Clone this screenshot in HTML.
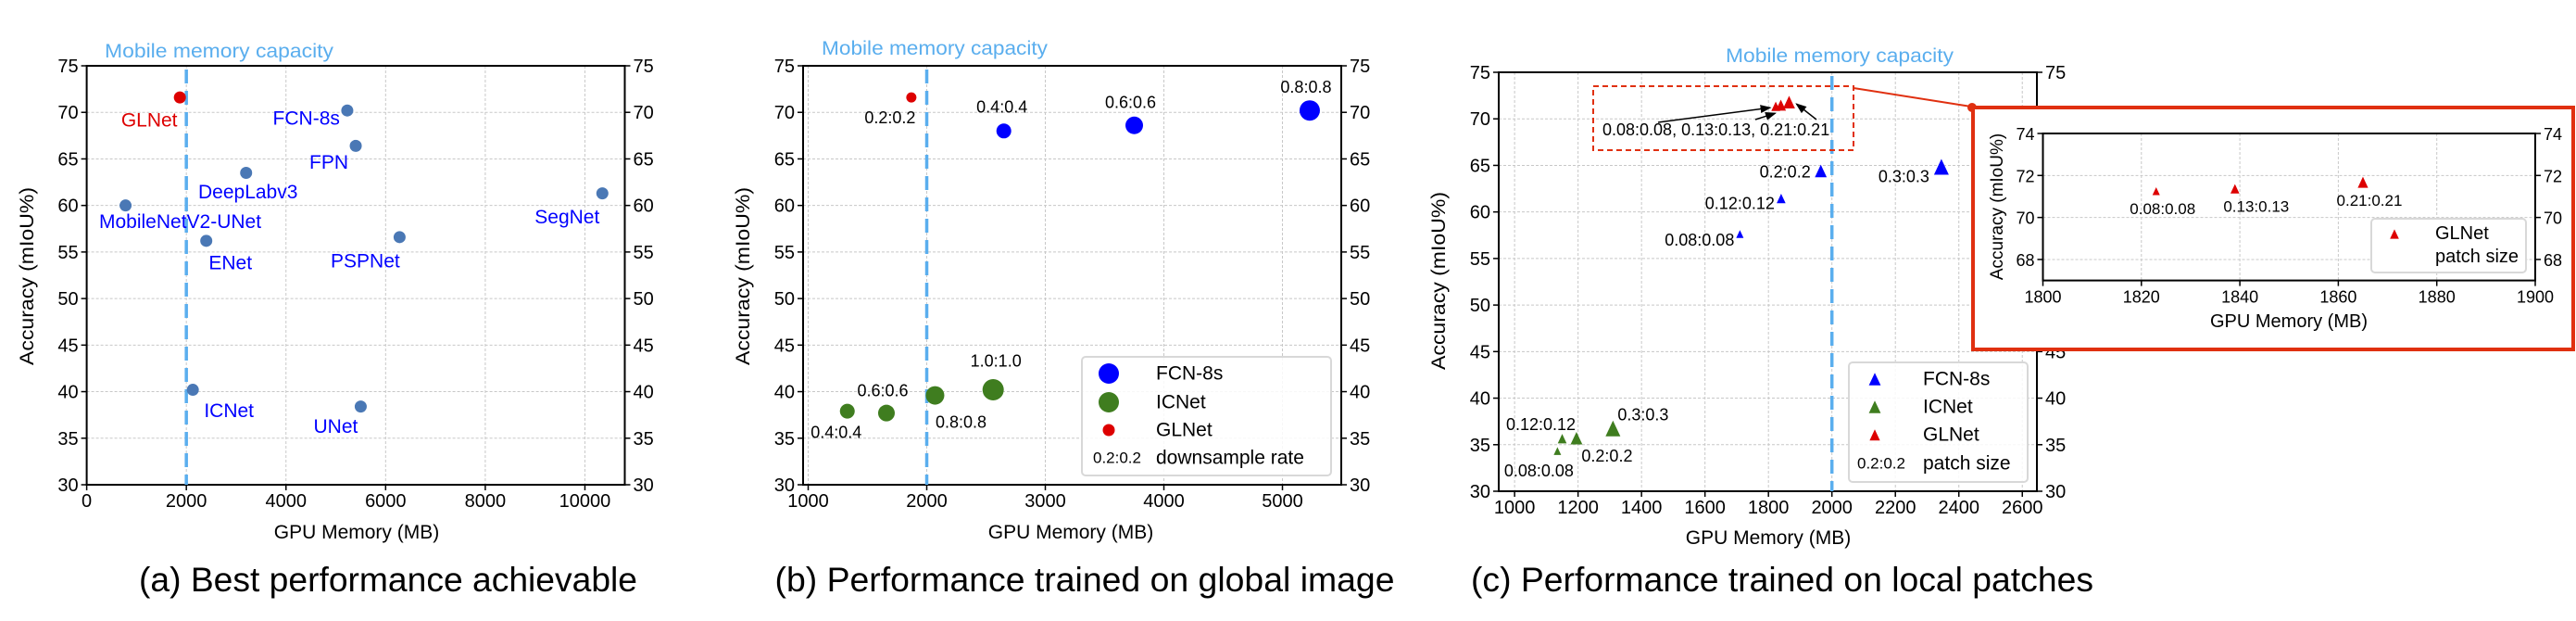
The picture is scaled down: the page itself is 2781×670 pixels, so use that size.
<!DOCTYPE html>
<html><head><meta charset="utf-8"><style>
html,body{margin:0;padding:0;background:#fff}
svg{display:block}
text{font-family:"Liberation Sans",sans-serif}
</style></head><body>
<svg id="fig" xmlns="http://www.w3.org/2000/svg" width="2781" height="670" viewBox="0 0 2781 670"></svg>
<script>
// ---------- data ----------
const yTicks = [30,35,40,45,50,55,60,65,70,75];
const aXTicks = [0,2000,4000,6000,8000,10000];
const aNames = ["GLNet","FCN-8s","FPN","DeepLabv3","MobileNetV2-UNet","SegNet","ENet","PSPNet","ICNet","UNet"];
const aMem = [1870,5230,5400,3200,780,10350,2400,6280,2130,5500];
const aAcc = [71.6,70.2,66.4,63.5,60.0,61.3,56.2,56.6,40.2,38.4];
const aLabDx=[-33,-8,-29,2,59,-38,26,-37,39,-27];
const aLabDy=[25,9,18,21,18,26,24,26,23,22];
const aAnchor=["middle","end","middle","middle","middle","middle","middle","middle","middle","middle"];

const bXTicks = [1000,2000,3000,4000,5000];
const bFcnRate = ["0.4:0.4","0.6:0.6","0.8:0.8"];
const bFcnMem = [2650,3750,5230];
const bFcnAcc = [68.0,68.6,70.2];
const bFcnR = [8,9.5,11];
const bFcnDx=[-2,-4,-4], bFcnDy=[-26,-25,-25];
const bIcRate = ["0.4:0.4","0.6:0.6","0.8:0.8","1.0:1.0"];
const bIcMem = [1330,1660,2070,2560];
const bIcAcc = [37.9,37.7,39.6,40.2];
const bIcR = [8,9,10,11.5];
const bIcDx=[-12,-4,28,3], bIcDy=[23,-24,29,-31];
const bGlRate=["0.2:0.2"], bGlMem=[1870], bGlAcc=[71.6];

const cXTicks = [1000,1200,1400,1600,1800,2000,2200,2400,2600];
const cFcnPatch=["0.08:0.08","0.12:0.12","0.2:0.2","0.3:0.3"];
const cFcnMem=[1710,1840,1965,2345];
const cFcnAcc=[57.5,61.3,64.2,64.6];
const cFcnS=[5,6,8,10];
const cFcnDx=[-6,-7,-11,-13], cFcnDy=[5,4,-1,8];
const cIcPatch=["0.08:0.08","0.12:0.12","0.2:0.2","0.3:0.3"];
const cIcMem=[1135,1150,1195,1310];
const cIcAcc=[34.2,35.5,35.5,36.5];
const cIcS=[5,6,8,10];
const cIcDx=[-20,-23,33,5], cIcDy=[20,-17,17,-17];
const cIcAnchor=["middle","middle","middle","start"];
const cGlPatch=["0.08:0.08","0.13:0.13","0.21:0.21"];
const cGlMem=[1823,1839,1865];
const cGlAcc=[71.2,71.3,71.6];
const insXTicks=[1800,1820,1840,1860,1880,1900];
const insYTicks=[68,70,72,74];

// ---------- helpers ----------
const NS="http://www.w3.org/2000/svg";
const svg=document.getElementById('fig');
function mk(tag,attrs,parent,txt){const e=document.createElementNS(NS,tag);for(const k in attrs)e.setAttribute(k,attrs[k]);if(txt!==undefined)e.textContent=txt;(parent||svg).appendChild(e);return e;}
function scale(d0,d1,r0,r1){return v=>r0+(v-d0)/(d1-d0)*(r1-r0);}
const BLUE="#0000ff",GREEN="#3f7d1f",RED="#dd0000",STEEL="#4a78b5",LB="#5aaeee",GRID="#c8c8c8";

function axes(g,x,y,X0,X1,Y0,Y1,xt,yt,fs,rightLabels){
  for(const t of xt){const px=x(t);
    const gl=mk('line',{x1:px,x2:px,y1:Y1,y2:Y0,stroke:GRID,'stroke-width':1,'stroke-dasharray':'3,2'},g);
    
    mk('line',{x1:px,x2:px,y1:Y0,y2:Y0+6,stroke:'#000','stroke-width':1.5},g);
    const tl=mk('text',{x:px,y:Y0+24,'font-size':fs,'text-anchor':'middle'},g,t);
    }
  for(const t of yt){const py=y(t);
    const gl=mk('line',{x1:X0,x2:X1,y1:py,y2:py,stroke:GRID,'stroke-width':1,'stroke-dasharray':'3,2'},g);
    
    mk('line',{x1:X0-6,x2:X0,y1:py,y2:py,stroke:'#000','stroke-width':1.5},g);
    mk('line',{x1:X1,x2:X1+6,y1:py,y2:py,stroke:'#000','stroke-width':1.5},g);
    const tl=mk('text',{x:X0-9,y:py+7,'font-size':fs,'text-anchor':'end'},g,t);
    
    if(rightLabels){const tr=mk('text',{x:X1+9,y:py+7,'font-size':fs,'text-anchor':'start'},g,t);
    }}
  const fr=mk('rect',{x:X0,y:Y1,width:X1-X0,height:Y0-Y1,fill:'none',stroke:'#000','stroke-width':2},g);
  
}
function tri(g,cx,cy,s,col){return mk('polygon',{points:`${cx},${cy-s*1.1} ${cx-s*0.8},${cy+s*0.6} ${cx+s*0.8},${cy+s*0.6}`,fill:col},g);}
function label(g,x,y,txt,fs,col,anchor,name){const t=mk('text',{x:x,y:y,'font-size':fs,fill:col||'#000','text-anchor':anchor||'middle','dominant-baseline':'central'},g,txt);return t;}
function mobile(g,x,Y0,Y1,tx,ty,tlen){
  const l=mk('line',{x1:x(2000),x2:x(2000),y1:Y1,y2:Y0,stroke:LB,'stroke-width':3.5,'stroke-dasharray':'15,8'},g);
  
  const t=mk('text',{x:tx,y:ty,'font-size':21,fill:LB,textLength:tlen,lengthAdjust:'spacingAndGlyphs'},g,'Mobile  memory capacity');
  
}
function titles(g,xlx,xly,ylx,yly,capx,capText,capLen){
  const xl=mk('text',{x:xlx,y:xly,'font-size':21,'text-anchor':'middle'},g,'GPU Memory (MB)');
  
  const yl=mk('text',{x:0,y:0,'font-size':21,'text-anchor':'middle',transform:`translate(${ylx},${yly}) rotate(-90)`,textLength:192,lengthAdjust:'spacingAndGlyphs'},g,'Accuracy (mIoU%)');
  
  const c=mk('text',{x:capx,y:638,'font-size':37,'text-anchor':'middle',textLength:capLen,lengthAdjust:'spacingAndGlyphs'},g,capText);
  
}

// ---------- panel A ----------
{
const g=mk('g',{});
const X0=93.6,X1=674.5,Y0=523,Y1=71;
const x=scale(0,10800,X0,X1),y=scale(30,75,Y0,Y1);
axes(g,x,y,X0,X1,Y0,Y1,aXTicks,yTicks,20,true);
mobile(g,x,Y0,Y1+4,113,62,247);
aNames.forEach((n,i)=>{const px=x(aMem[i]),py=y(aAcc[i]);
  const c=mk('circle',{cx:px,cy:py,r:6.5,fill:i===0?RED:STEEL},g);
  
  label(g,px+aLabDx[i],py+aLabDy[i],n,21,i===0?RED:BLUE,aAnchor[i],'model-label');});
titles(g,385,581,36,298,419,'(a) Best performance achievable',538);
}
// ---------- panel B ----------
{
const g=mk('g',{});
const X0=867,X1=1448,Y0=523,Y1=71;
const x=scale(957,5496,X0,X1),y=scale(30,75,Y0,Y1);
axes(g,x,y,X0,X1,Y0,Y1,bXTicks,yTicks,20,true);
mobile(g,x,Y0,Y1+4,887,59,244);
bFcnMem.forEach((m,i)=>{const px=x(m),py=y(bFcnAcc[i]);
  const c=mk('circle',{cx:px,cy:py,r:bFcnR[i],fill:BLUE},g);
  label(g,px+bFcnDx[i],py+bFcnDy[i],bFcnRate[i],18,'#000','middle','rate-label');});
bIcMem.forEach((m,i)=>{const px=x(m),py=y(bIcAcc[i]);
  const c=mk('circle',{cx:px,cy:py,r:bIcR[i],fill:GREEN},g);
  label(g,px+bIcDx[i],py+bIcDy[i],bIcRate[i],18,'#000','middle','rate-label');});
bGlMem.forEach((m,i)=>{const px=x(m),py=y(bGlAcc[i]);
  const c=mk('circle',{cx:px,cy:py,r:5.5,fill:RED},g);
  label(g,px-23,py+22,bGlRate[i],18,'#000','middle','rate-label');});
const lg=mk('g',{},g);
mk('rect',{x:1168,y:385,width:269,height:128,rx:4,fill:'#fff','fill-opacity':0.85,stroke:'#d8d8d8','stroke-width':2},lg);
mk('circle',{cx:1197,cy:403,r:11,fill:BLUE},lg);label(lg,1248,403,'FCN-8s',21,'#000','start','legend-entry');
mk('circle',{cx:1197,cy:434,r:11,fill:GREEN},lg);label(lg,1248,434,'ICNet',21,'#000','start','legend-entry');
mk('circle',{cx:1197,cy:464,r:6.5,fill:RED},lg);label(lg,1248,464,'GLNet',21,'#000','start','legend-entry');
label(lg,1180,494,'0.2:0.2',17,'#000','start','legend-entry');label(lg,1248,494,'downsample rate',21,'#000','start','legend-entry');
titles(g,1156,581,809,298,1171,'(b) Performance trained on global image',669);
}
// ---------- panel C ----------
{
const g=mk('g',{});
const X0=1618,X1=2199,Y0=530,Y1=78;
const x=scale(950,2646,X0,X1),y=scale(30,75,Y0,Y1);
axes(g,x,y,X0,X1,Y0,Y1,cXTicks,yTicks,20,true);
mobile(g,x,Y0,Y1+4,1863,67,246);
cFcnMem.forEach((m,i)=>{const px=x(m),py=y(cFcnAcc[i]);
  const t=tri(g,px,py,cFcnS[i],BLUE);
  label(g,px+cFcnDx[i],py+cFcnDy[i],cFcnPatch[i],18,'#000','end','patch-label');});
cIcMem.forEach((m,i)=>{const px=x(m),py=y(cIcAcc[i]);
  const t=tri(g,px,py,cIcS[i],GREEN);
  label(g,px+cIcDx[i],py+cIcDy[i],cIcPatch[i],18,'#000',cIcAnchor[i],'patch-label');});
const gp=[];
cGlMem.forEach((m,i)=>{const px=x(m),py=y(cGlAcc[i]);gp.push([px,py]);
  const t=tri(g,px,py,6+i,RED);});
const zb=mk('rect',{x:1720,y:93,width:281,height:69,fill:'none',stroke:'#e03010','stroke-width':2,'stroke-dasharray':'6,4'},g);

label(g,1730,140,'0.08:0.08, 0.13:0.13, 0.21:0.21',18,'#000','start','glnet-annotation');
mk('defs',{},g).innerHTML='<marker id="ah" markerWidth="8" markerHeight="6" refX="7" refY="3" orient="auto"><path d="M0,0 L8,3 L0,6 z" fill="#000"/></marker>';
const ar=[[1790,132],[1895,129],[1961,129]];
ar.forEach((s,i)=>{const tx=gp[i][0]+(i===2?8:-6),ty=gp[i][1]+(i===1?7:0);
  const a=mk('line',{x1:s[0],y1:s[1],x2:tx,y2:ty,stroke:'#000','stroke-width':1.5,'marker-end':'url(#ah)'},g);
  });
const lg=mk('g',{},g);
mk('rect',{x:1996,y:391,width:193,height:129,rx:4,fill:'#fff','fill-opacity':0.85,stroke:'#d8d8d8','stroke-width':2},lg);
tri(lg,2024,411,8,BLUE);label(lg,2076,409,'FCN-8s',21,'#000','start','legend-entry');
tri(lg,2024,441,8,GREEN);label(lg,2076,439,'ICNet',21,'#000','start','legend-entry');
tri(lg,2024,471,7,RED);label(lg,2076,469,'GLNet',21,'#000','start','legend-entry');
label(lg,2005,500,'0.2:0.2',17,'#000','start','legend-entry');label(lg,2076,500,'patch size',21,'#000','start','legend-entry');
titles(g,1909,587,1560,303,1924,'(c) Performance trained on local patches',672);
// connector + inset
const cl=mk('line',{x1:2001,y1:95,x2:2128,y2:115,stroke:'#e03010','stroke-width':2},g);

mk('circle',{cx:2129,cy:116,r:5,fill:'#e03010'},g);
const ig=mk('g',{},g);
mk('rect',{x:2130,y:116,width:648,height:261,fill:'#fff',stroke:'#e03010','stroke-width':4},ig);
const IX0=2205.5,IX1=2737,IY0=302.6,IY1=144;
const ix=scale(1800,1900,IX0,IX1),iy=scale(67,74,IY0,IY1);
axes(ig,ix,iy,IX0,IX1,IY0,IY1,insXTicks,insYTicks,18,true);
cGlMem.forEach((m,i)=>{const px=ix(m),py=iy(cGlAcc[i]);
  const t=tri(ig,px,py,5+i,RED);
  label(ig,px+(i===1?23:7),py+18,cGlPatch[i],17,'#000','middle','patch-label');});
const ixl=mk('text',{x:2471,y:353,'font-size':20,'text-anchor':'middle'},ig,'GPU Memory (MB)');

const iyl=mk('text',{x:0,y:0,'font-size':19,'text-anchor':'middle',transform:'translate(2162,223) rotate(-90)'},ig,'Accuracy (mIoU%)');

mk('rect',{x:2560,y:236,width:167,height:58,rx:4,fill:'#fff',stroke:'#d8d8d8','stroke-width':2},ig);
tri(ig,2585,254,6,RED);label(ig,2629,252,'GLNet',20,'#000','start','legend-entry');
label(ig,2629,277,'patch size',20,'#000','start','legend-entry');
}
</script>
</body></html>
